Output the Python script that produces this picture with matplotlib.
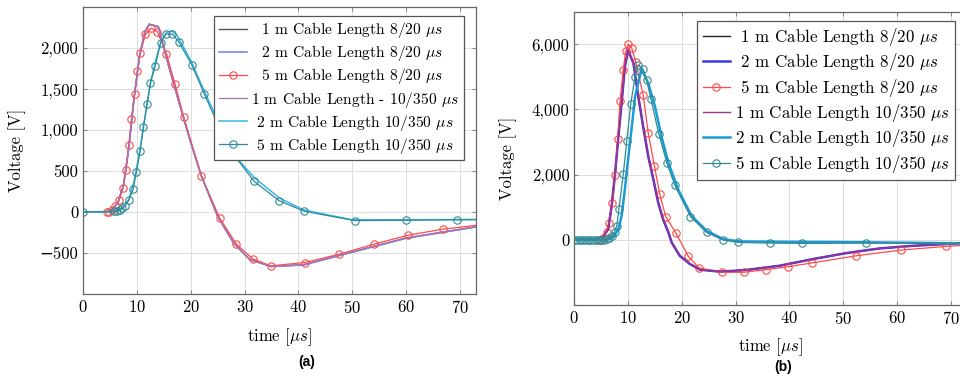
# two voltage-vs-time panels (a) 1 / 2 / 5 m cable, 8/20 and 10/350 surges

import matplotlib.pyplot as plt
from matplotlib.ticker import FuncFormatter

plt.rcParams['font.family'] = ['cmr10', 'DejaVu Serif']
plt.rcParams['mathtext.fontset'] = 'cm'
plt.rcParams['axes.formatter.use_mathtext'] = True

# ---------------- panel (a) ----------------
t_a_820 = [0, 4.5, 5.5, 6.5, 7.5, 8.5, 9.5, 10.5, 11.5, 12.3, 14.0, 16, 18, 20, 22, 25, 28, 31, 35, 41, 50, 60, 76]
v_a_820_1m = [0, 0, 30, 120, 320, 780, 1400, 1900, 2200, 2290, 2260, 1760, 1300, 850, 440, -50, -380, -580, -665, -645, -490, -320, -150]
v_a_820_2m = [0, 0, 30, 120, 320, 780, 1400, 1900, 2200, 2290, 2260, 1760, 1300, 850, 440, -50, -380, -580, -665, -645, -490, -320, -150]
v_a_350_1m = [0, 0, 30, 125, 330, 790, 1410, 1905, 2205, 2290, 2255, 1755, 1295, 845, 430, -55, -385, -585, -665, -640, -485, -315, -148]

t_a_820_5m = [4.4, 4.9, 5.4, 5.9, 6.7, 7.4, 8.0, 8.5, 9.0, 9.6, 10.1, 10.6, 11.6, 12.7, 13.8, 15.5, 17.1, 18.7, 22.0, 25.4, 28.5, 31.6, 34.9, 41.2, 47.6, 54.0, 60.4, 66.8, 76]
v_a_820_5m = [0, 5, 20, 73, 142, 288, 515, 811, 1136, 1444, 1724, 1934, 2166, 2243, 2198, 1931, 1557, 1160, 434, -77, -393, -575, -657, -616, -515, -393, -283, -210, -140]

t_a_350 = [0, 5.5, 6.5, 7.5, 8.5, 9.5, 10.5, 11.5, 12.5, 13.5, 14.5, 15.5, 16.5, 17.5, 20, 22.5, 25, 28, 31.8, 36.5, 41, 50, 60, 76]
v_a_350_2m = [0, 0, 15, 60, 150, 380, 730, 1150, 1560, 1850, 2080, 2190, 2210, 2150, 1850, 1480, 1120, 700, 420, 170, 25, -95, -95, -90]

t_a_350_5m = [0, 5.8, 6.3, 6.8, 7.3, 7.8, 8.5, 9.3, 9.9, 10.6, 11.2, 11.9, 12.5, 13.4, 14.4, 15.4, 16.6, 17.8, 20.2, 22.5, 25.2, 28.2, 31.8, 36.4, 41.1, 50.5, 60.0, 69.4, 78]
v_a_350_5m = [0, 8, 15, 25, 45, 73, 146, 276, 483, 738, 1034, 1322, 1574, 1781, 2061, 2170, 2170, 2073, 1797, 1444, 1050, 680, 373, 139, 9, -105, -100, -95, -90]

labels_a = ['  1 m Cable Length 8/20 $\\mu s$', '  2 m Cable Length 8/20 $\\mu s$',
            '  5 m Cable Length 8/20 $\\mu s$', '1 m Cable Length - 10/350 $\\mu s$',
            ' 2 m Cable Length 10/350 $\\mu s$', ' 5 m Cable Length 10/350 $\\mu s$']

# ---------------- panel (b) ----------------
t_b_820 = [0, 5.0, 6.3, 6.95, 7.6, 8.2, 8.85, 9.4, 10.0, 11.0, 11.9, 12.8, 13.75, 14.7, 15.6, 16.5, 17.5, 18.1, 19.6, 21.5, 23.4, 27.1, 32.0, 38.2, 44.4, 50.6, 56.8, 63.0, 71.1, 76]
v_b_820_1m = [0, 0, 327, 1038, 2058, 3176, 4296, 5313, 5823, 5417, 4397, 3481, 2565, 1853, 1142, 632, 226, -80, -489, -742, -916, -977, -925, -794, -589, -406, -263, -183, -110, -90]
v_b_820_2m = [0, 0, 327, 1038, 2058, 3176, 4296, 5313, 5823, 5417, 4397, 3481, 2565, 1853, 1142, 632, 226, -80, -489, -742, -916, -977, -925, -794, -589, -406, -263, -183, -110, -90]
v_b_350_1m = [0, 0, 340, 1060, 2080, 3200, 4310, 5320, 5800, 5430, 4420, 3500, 2590, 1870, 1160, 650, 240, -70, -480, -735, -910, -975, -925, -794, -589, -406, -263, -183, -110, -90]

t_b_820_5m = [4.8, 5.4, 6.0, 6.45, 7.07, 7.6, 8.1, 8.5, 9.1, 9.55, 10.04, 10.7, 11.4, 12.8, 13.75, 14.9, 15.9, 17.0, 18.9, 21.2, 23.2, 27.4, 31.5, 35.6, 39.8, 44.1, 52.4, 60.7, 69.1, 77]
v_b_820_5m = [0, 60, 250, 531, 1142, 1985, 3096, 4245, 5212, 5780, 6006, 5875, 5466, 4449, 3279, 2260, 1395, 714, 205, -507, -864, -996, -996, -916, -824, -711, -489, -315, -202, -120]

t_b_350 = [0, 6.0, 7.4, 8.2, 8.8, 9.4, 10.0, 10.7, 11.3, 12.5, 13.75, 15.0, 16.2, 17.5, 19.3, 21.8, 24.6, 27.7, 30.8, 38, 50, 60, 71, 76]
v_b_350_2m = [0, 0, 100, 327, 733, 1548, 2464, 3481, 4397, 5233, 4806, 4092, 3176, 2363, 1548, 733, 275, 20, -50, -60, -70, -85, -105, -110]

t_b_350_5m = [0, 0.5, 1.0, 1.5, 2.0, 2.5, 3.0, 3.5, 4.0, 4.5, 5.0, 5.5, 6.0, 6.5, 7.0, 7.5, 7.9, 8.3, 9.1, 9.75, 10.5, 11.3, 11.9, 12.8, 13.45, 14.25, 15.7, 17.2, 18.7, 21.6, 24.6, 27.6, 30.5, 36.4, 42.4, 54.2, 80]
v_b_350_5m = [0, 0, 0, 0, 0, 0, 0, 0, 0, 0, 5, 10, 20, 60, 120, 250, 427, 937, 2006, 3023, 4175, 5008, 5365, 5233, 4907, 4317, 3258, 2363, 1670, 714, 226, 0, -80, -100, -110, -100, -100]

labels_b = [' 1 m Cable Length 8/20 $\\mu s$', ' 2 m Cable Length 8/20 $\\mu s$',
            ' 5 m Cable Length 8/20 $\\mu s$', '1 m Cable Length 10/350 $\\mu s$',
            '2 m Cable Length 10/350 $\\mu s$', '5 m Cable Length 10/350 $\\mu s$']

c_black = '#222222'
c_blue = '#3a3ae0'
c_red = '#ff4a4a'
c_purple = '#a0308f'
c_cyan = '#1b9ad8'
c_teal = '#2f8c94'


def fmt(v, pos):
    return f'{v:,.0f}'.replace('-', '\u2212')


def style(ax, ylim, yticks, fs):
    ax.set_xlim(0, 73)
    ax.set_ylim(*ylim)
    ax.set_xticks(range(0, 71, 10))
    ax.set_yticks(yticks)
    ax.yaxis.set_major_formatter(FuncFormatter(fmt))
    ax.grid(True, color='#dddddd', lw=0.7)
    ax.set_axisbelow(True)
    ax.tick_params(direction='in', length=3, top=True, right=True, labelsize=fs, color='#888888')
    for s in ax.spines.values():
        s.set_color('#666666')
        s.set_linewidth(0.9)
    ax.set_xlabel('time [$\\mu s$]', fontsize=fs)
    ax.set_ylabel('Voltage [V]', fontsize=fs)


fig = plt.figure(figsize=(9.6, 3.76), dpi=100)
mk = dict(marker='o', mfc='none', ms=5.3, mew=0.8)
leg_kw = dict(loc='upper right', borderaxespad=0, fancybox=False, framealpha=1,
              edgecolor='#555555', labelspacing=0.2, borderpad=0.3, handletextpad=0.3)

# (a)
ax1 = fig.add_axes([0.0865, 0.2181, 0.4093, 0.7633])
ax1.plot(t_a_820, v_a_820_1m, color='#555555', lw=1.0, label=labels_a[0])
ax1.plot(t_a_820, v_a_820_2m, color='#7f86e8', lw=1.2, label=labels_a[1])
ax1.plot(t_a_820_5m, v_a_820_5m, color=c_red, lw=0.9, label=labels_a[2], **mk)
ax1.plot(t_a_820, v_a_350_1m, color='#b070b0', lw=0.9, label=labels_a[3])
ax1.plot(t_a_350, v_a_350_2m, color='#3ab4ea', lw=1.1, label=labels_a[4])
ax1.plot(t_a_350_5m, v_a_350_5m, color=c_teal, lw=0.9, label=labels_a[5], **mk)
style(ax1, (-1000, 2500), range(-500, 2001, 500), 12)
ax1.yaxis.set_label_coords(-0.145, 0.5)
ax1.xaxis.set_label_coords(0.5, -0.112)
leg = ax1.legend(bbox_to_anchor=(0.969, 0.970), fontsize=11.2, handlelength=1.8, **leg_kw)
leg.get_frame().set_linewidth(0.9)

# (b)
ax2 = fig.add_axes([0.5982, 0.1888, 0.4091, 0.7801])
ax2.plot(t_b_820, v_b_820_1m, color=c_black, lw=1.0, label=labels_b[0])
ax2.plot(t_b_820, v_b_820_2m, color=c_blue, lw=1.8, label=labels_b[1])
ax2.plot(t_b_820_5m, v_b_820_5m, color=c_red, lw=0.9, label=labels_b[2], **mk)
ax2.plot(t_b_820, v_b_350_1m, color=c_purple, lw=1.0, label=labels_b[3])
ax2.plot(t_b_350, v_b_350_2m, color=c_cyan, lw=1.8, label=labels_b[4])
ax2.plot(t_b_350_5m, v_b_350_5m, color=c_teal, lw=0.9, label=labels_b[5], **mk)
style(ax2, (-2000, 7000), range(0, 6001, 2000), 12)
ax2.yaxis.set_label_coords(-0.146, 0.5)
ax2.xaxis.set_label_coords(0.5, -0.108)
leg = ax2.legend(bbox_to_anchor=(0.969, 0.969), fontsize=12.2, handlelength=1.6, **leg_kw)
leg.get_frame().set_linewidth(0.9)

fig.text(307 / 960, 1 - 362 / 376, '(a)', family='Liberation Sans', weight='bold', fontsize=10, ha='center', va='center')
fig.text(783 / 960, 1 - 367 / 376, '(b)', family='Liberation Sans', weight='bold', fontsize=10, ha='center', va='center')

fig.savefig('out.png', dpi=100)
